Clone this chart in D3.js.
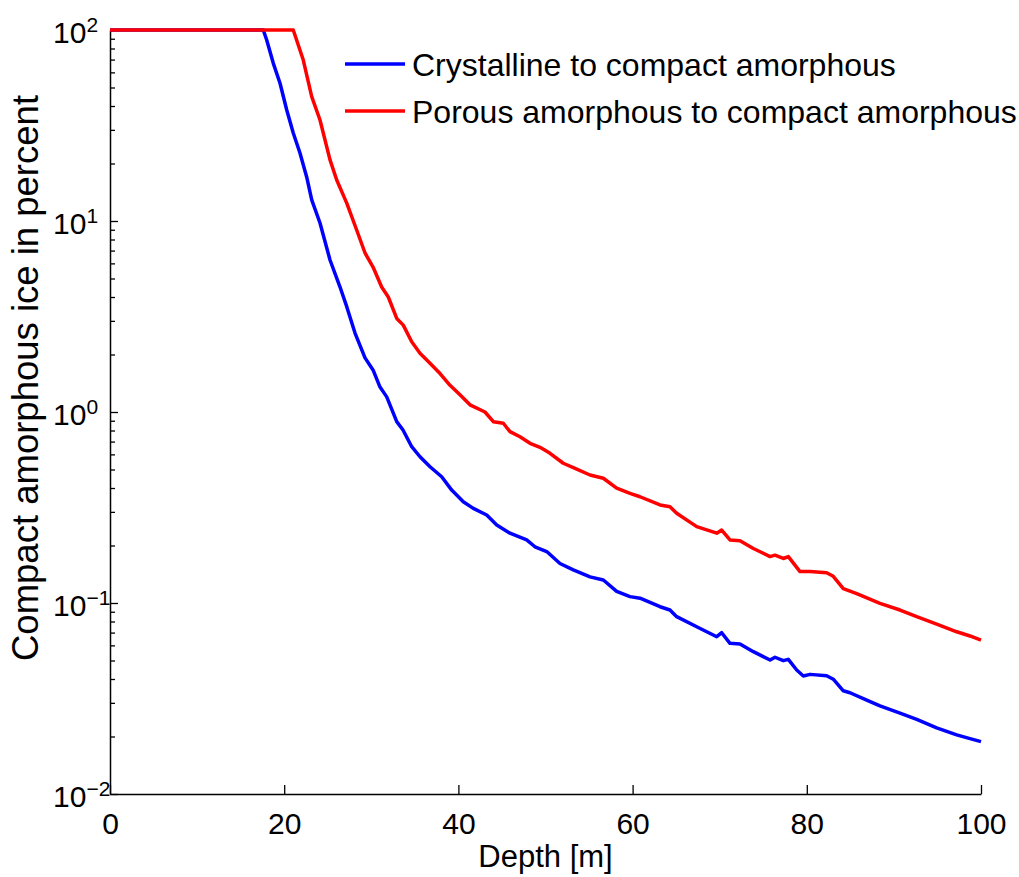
<!DOCTYPE html>
<html><head><meta charset="utf-8">
<script src="https://cdn.jsdelivr.net/npm/d3@7"></script>
<style>body{margin:0;background:#fff}svg{display:block}</style>
</head><body><svg id="chart" width="1019" height="877"></svg>
<script>
const seriesNames = ["Crystalline to compact amorphous", "Porous amorphous to compact amorphous"];
const seriesColors = ["#0000ff", "#ff0000"];
const xTicks = [0, 20, 40, 60, 80, 100];
const yTicks = [0.01, 0.1, 1, 10, 100];
const yTickExponents = ["\u22122", "\u22121", "0", "1", "2"];
const xLabel = "Depth [m]";
const yLabel = "Compact amorphous ice in percent";

const blueDepth = [0, 17.6, 17.99, 18.75, 19.52, 20.29, 21.04, 21.81, 22.58, 23.16, 24.11, 25.26, 26.41, 27.18, 28.13, 29.28, 30.20, 31.00, 31.77, 32.92, 33.64, 34.64, 35.59, 36.74, 38.08, 39.23, 40.56, 41.71, 43.25, 44.40, 45.92, 47.84, 48.79, 50.14, 51.66, 53.19, 55.11, 56.64, 58.17, 59.70, 60.85, 63.15, 64.29, 65.06, 67.36, 69.66, 70.23, 71.18, 72.33, 73.86, 75.78, 76.35, 77.30, 77.88, 78.84, 79.60, 80.37, 82.28, 83.04, 84.19, 84.96, 86.88, 88.40, 90.70, 92.62, 94.91, 97.21, 98.74, 100];
const blueValue = [100, 100, 88.6, 66.9, 52.6, 38.1, 28.9, 22.7, 17.0, 12.9, 9.76, 6.25, 4.51, 3.56, 2.59, 1.92, 1.66, 1.35, 1.20, 0.890, 0.805, 0.658, 0.583, 0.517, 0.458, 0.390, 0.339, 0.313, 0.289, 0.256, 0.232, 0.214, 0.197, 0.186, 0.161, 0.149, 0.137, 0.132, 0.115, 0.108, 0.106, 0.0956, 0.0919, 0.0848, 0.0751, 0.0666, 0.0699, 0.0615, 0.0610, 0.0556, 0.0503, 0.0520, 0.0499, 0.0507, 0.0446, 0.0415, 0.0423, 0.0416, 0.0399, 0.0347, 0.0339, 0.0310, 0.0289, 0.0265, 0.0246, 0.0222, 0.0204, 0.0195, 0.0188];

const redDepth = [0, 21.04, 22.19, 23.16, 24.11, 25.26, 26.03, 27.18, 28.32, 29.28, 30.20, 31.19, 31.95, 32.92, 33.67, 34.64, 35.59, 36.74, 37.89, 39.04, 40.18, 41.33, 43.05, 44.01, 45.16, 45.92, 47.07, 48.22, 49.37, 50.52, 52.04, 53.39, 55.11, 56.64, 58.17, 59.70, 60.85, 63.15, 64.29, 65.06, 67.36, 69.66, 70.23, 71.18, 72.33, 73.86, 75.78, 76.35, 77.30, 77.88, 79.22, 80.37, 82.28, 83.04, 84.19, 85.73, 88.40, 90.70, 92.62, 94.91, 97.21, 98.74, 100];
const redValue = [100, 100, 69.6, 44.8, 33.8, 20.9, 16.4, 12.4, 8.97, 6.80, 5.74, 4.51, 4.00, 3.09, 2.85, 2.33, 2.03, 1.80, 1.59, 1.38, 1.23, 1.09, 1.00, 0.890, 0.873, 0.789, 0.742, 0.686, 0.653, 0.608, 0.539, 0.507, 0.468, 0.450, 0.399, 0.375, 0.360, 0.326, 0.319, 0.295, 0.251, 0.232, 0.241, 0.214, 0.212, 0.193, 0.175, 0.178, 0.171, 0.175, 0.146, 0.146, 0.144, 0.138, 0.119, 0.112, 0.0996, 0.0919, 0.0848, 0.0776, 0.0707, 0.0672, 0.0640];

(function () {
const FONT = "'Liberation Sans', Arial, Helvetica, sans-serif";
const FS = 30;
const svg = d3.select("#chart").style("font-family", FONT);
const mLeft = 110, mRight = 981, mTop = 30, mBottom = 794;

const x = d3.scaleLinear().domain([0, 100]).range([mLeft, mRight]);
const y = d3.scaleLog().domain([0.01, 100]).range([mBottom, mTop]);

// minor y ticks
const minor = [];
[0.01, 0.1, 1, 10].forEach(b => { for (let k = 2; k <= 9; k++) minor.push(b * k); });
svg.append("g").attr("transform", `translate(${mLeft},0)`)
  .call(d3.axisLeft(y).tickValues(minor).tickSize(-5).tickSizeOuter(0).tickFormat(""))
  .call(g => g.select(".domain").remove())
  .call(g => g.selectAll("line").attr("stroke", "#000").attr("stroke-width", 1.3));

// major y axis
const yAxisG = svg.append("g").attr("transform", `translate(${mLeft},0)`)
  .call(d3.axisLeft(y).tickValues(yTicks).tickSize(-8).tickSizeOuter(0).tickPadding(57).tickFormat(""));
yAxisG.select(".domain").attr("stroke", "#000").attr("stroke-width", 1.5);
yAxisG.selectAll("line").attr("stroke", "#000").attr("stroke-width", 1.3);
yAxisG.selectAll(".tick text").each(function(d) {
  const t = d3.select(this).attr("text-anchor", "start").attr("dy", null).attr("y", 12)
    .attr("font-size", FS).attr("font-family", FONT).attr("fill", "#000");
  t.append("tspan").text("10");
  t.append("tspan").attr("dy", -11).attr("font-size", 21).text(yTickExponents[yTicks.indexOf(d)]);
});

// x axis
const xAxisG = svg.append("g").attr("transform", `translate(0,${mBottom})`)
  .call(d3.axisBottom(x).tickValues(xTicks).tickSize(-9).tickSizeOuter(0).tickPadding(19).tickFormat(d3.format("d")));
xAxisG.select(".domain").attr("stroke", "#000").attr("stroke-width", 1.5);
xAxisG.selectAll("line").attr("stroke", "#000").attr("stroke-width", 1.3);
xAxisG.selectAll("text").attr("font-size", FS).attr("font-family", FONT).attr("fill", "#000");

// axis labels
svg.append("text").attr("x", (mLeft + mRight) / 2).attr("y", 867).attr("text-anchor", "middle")
  .attr("font-size", 31).text(xLabel);
svg.append("text").attr("transform", `translate(38,378) rotate(-90)`)
  .attr("text-anchor", "middle").attr("font-size", 36.5).text(yLabel);

// lines
const line = d3.line().x(d => x(d[0])).y(d => y(d[1]));
const series = [d3.zip(blueDepth, blueValue), d3.zip(redDepth, redValue)];
svg.append("g").selectAll("path.series").data(series).join("path")
  .attr("class", "series")
  .attr("d", line).attr("fill", "none")
  .attr("stroke", (d, i) => seriesColors[i]).attr("stroke-width", 3.5)
  .attr("stroke-linejoin", "round");

// legend
const legend = svg.append("g");
const legRows = [64, 111];
seriesNames.forEach((name, i) => {
  legend.append("line").attr("x1", 345).attr("x2", 405).attr("y1", legRows[i]).attr("y2", legRows[i])
    .attr("stroke", seriesColors[i]).attr("stroke-width", 3.5);
  legend.append("text").attr("x", 412).attr("y", legRows[i] + 12).attr("font-size", 32).text(name);
});
})();
</script>
</body></html>
